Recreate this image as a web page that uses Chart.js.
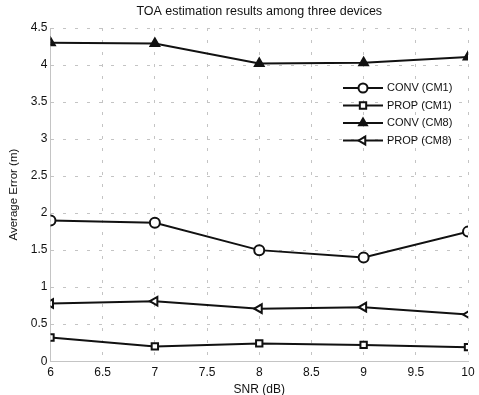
<!DOCTYPE html>
<html>
<head>
<meta charset="utf-8">
<script src="https://cdn.jsdelivr.net/npm/chart.js@4/dist/chart.umd.min.js"></script>
<style>
  html, body { margin: 0; padding: 0; background: #fff; }
  #wrap { width: 479px; height: 395px; }
</style>
</head>
<body>
<div id="wrap"><canvas id="toaChart"></canvas></div>
<script>
const snr = [6, 7, 8, 9, 10];
const convCM1 = [1.90, 1.87, 1.50, 1.40, 1.75];
const propCM1 = [0.32, 0.20, 0.24, 0.22, 0.19];
const convCM8 = [4.30, 4.29, 4.02, 4.03, 4.11];
const propCM8 = [0.78, 0.81, 0.71, 0.73, 0.63];
const seriesNames = ["CONV (CM1)", "PROP (CM1)", "CONV (CM8)", "PROP (CM8)"];

const FONT = "'Liberation Sans', Arial, sans-serif";

function pts(ys) {
    return snr.map((x, i) => ({ x: x, y: ys[i] }));
}

function makeSeries(label, ys, style, rot, filled) {
    return {
        label: label,
        data: pts(ys),
        borderColor: "#111",
        borderWidth: 2,
        pointStyle: style,
        rotation: rot,
        pointRadius: style === "rect" ? 4.5 : 5,
        pointBorderWidth: 2,
        pointBorderColor: "#111",
        pointBackgroundColor: filled ? "#111" : "#fff",
        tension: 0
    };
}

// legend drawn inside plot area (top right), like the matlab one
const insideLegend = {
    id: "insideLegend",
    afterDraw(chart) {
        const ctx = chart.ctx;
        const area = chart.chartArea;
        const x0 = area.right - 125;
        let y = area.top + 60;
        ctx.save();
        ctx.font = "11px " + FONT;
        ctx.textBaseline = "middle";
        chart.data.datasets.forEach((ds) => {
            ctx.strokeStyle = "#111";
            ctx.lineWidth = 2;
            ctx.beginPath();
            ctx.moveTo(x0, y);
            ctx.lineTo(x0 + 40, y);
            ctx.stroke();
            ctx.fillStyle = ds.pointBackgroundColor;
            Chart.helpers.drawPoint(ctx, {
                pointStyle: ds.pointStyle,
                rotation: ds.rotation,
                radius: 4.5,
                borderWidth: 2
            }, x0 + 20, y);
            ctx.fillStyle = "#111";
            ctx.fillText(ds.label, x0 + 44, y);
            y += 17.5;
        });
        ctx.restore();
    }
};

const tickFmt = (v) => String(Math.round(v * 10) / 10);

new Chart(document.getElementById("toaChart"), {
    type: "line",
    data: {
        datasets: [
            makeSeries(seriesNames[0], convCM1, "circle", 0, false),
            makeSeries(seriesNames[1], propCM1, "rect", 0, false),
            makeSeries(seriesNames[2], convCM8, "triangle", 0, true),
            makeSeries(seriesNames[3], propCM8, "triangle", -90, false)
        ]
    },
    options: {
        responsive: true,
        maintainAspectRatio: false,
        animation: false,
        layout: { padding: { left: 7, right: 11, top: 0, bottom: -2 } },
        scales: {
            x: {
                type: "linear",
                min: 6,
                max: 10,
                ticks: { stepSize: 0.5, color: "#111", font: { family: FONT, size: 12 }, padding: 4, callback: tickFmt },
                grid: { color: "#c4c4c4", lineWidth: 1, drawTicks: false },
                border: { dash: [3, 9], color: "#c4c4c4" },
                title: { display: true, text: "SNR (dB)", color: "#111", font: { family: FONT, size: 12 }, padding: { top: -1, bottom: 0 } }
            },
            y: {
                min: 0,
                max: 4.5,
                ticks: { stepSize: 0.5, color: "#111", font: { family: FONT, size: 12 }, padding: 3, callback: tickFmt },
                grid: { color: "#c4c4c4", lineWidth: 1, drawTicks: false },
                border: { dash: [3, 9], color: "#c4c4c4" },
                title: { display: true, text: "Average Error (m)", color: "#111", font: { family: FONT, size: 11.5 }, padding: { top: 0, bottom: 7 } }
            }
        },
        plugins: {
            legend: { display: false },
            tooltip: { enabled: false },
            title: {
                display: true,
                fullSize: false,
                text: "TOA estimation results among three devices",
                color: "#111",
                font: { family: FONT, size: 12.5, weight: "normal" },
                padding: { top: 4, bottom: 9 }
            }
        }
    },
    plugins: [insideLegend]
});
</script>
</body>
</html>
